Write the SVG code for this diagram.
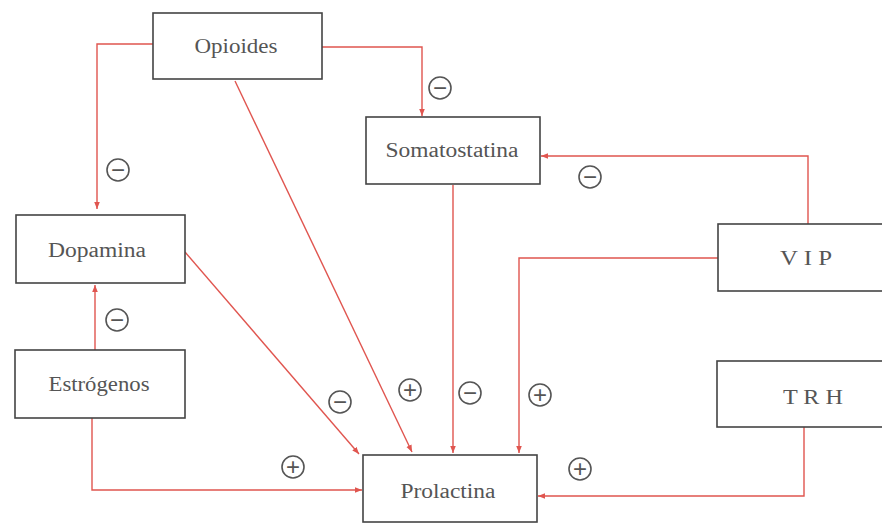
<svg xmlns="http://www.w3.org/2000/svg" width="882" height="526" viewBox="0 0 882 526">
<defs>
<marker id="ah" viewBox="0 0 10 10" refX="10" refY="5" markerWidth="7" markerHeight="7" markerUnits="userSpaceOnUse" orient="auto">
<path d="M0,1 L10,5 L0,9 Z" fill="#e0554f"/>
</marker>
<style>
.box{fill:#fff;stroke:#444;stroke-width:1.6}
.lbl{font-family:"Liberation Serif","Times New Roman",serif;font-size:20px;fill:#555;text-anchor:middle;dominant-baseline:central}
.c{fill:none;stroke:#e0554f;stroke-width:1.4;marker-end:url(#ah)}
.sg circle{fill:#fff;stroke:#555;stroke-width:1.6}
.sg text{font-family:"Liberation Sans",Arial,sans-serif;font-size:24px;fill:#555;text-anchor:middle;dominant-baseline:central}
</style>
</defs>
<rect width="882" height="526" fill="#fff"/>
<g id="connectors">
<path class="c" d="M153,44 H97 V209"/>
<path class="c" d="M322,47 H422 V116"/>
<path class="c" d="M235,81 L412,452"/>
<path class="c" d="M185,252 L359,454"/>
<path class="c" d="M95,350 V285"/>
<path class="c" d="M92,418 V490 H362"/>
<path class="c" d="M453,185 V453"/>
<path class="c" d="M808,224 V156 H541"/>
<path class="c" d="M718,258 H519 V453"/>
<path class="c" d="M804,427 V496 H538"/>
</g>
<g id="signs" class="sg">
<g><circle cx="440" cy="88" r="11"/><text x="440" y="87">−</text></g>
<g><circle cx="118" cy="170" r="11"/><text x="118" y="169">−</text></g>
<g><circle cx="590" cy="177" r="11"/><text x="590" y="176">−</text></g>
<g><circle cx="117" cy="320" r="11"/><text x="117" y="319">−</text></g>
<g><circle cx="340" cy="402" r="11"/><text x="340" y="401">−</text></g>
<g><circle cx="410" cy="390" r="11"/><text x="410" y="389">+</text></g>
<g><circle cx="470" cy="393" r="11"/><text x="470" y="392">−</text></g>
<g><circle cx="540" cy="395" r="11"/><text x="540" y="394">+</text></g>
<g><circle cx="293" cy="467" r="11"/><text x="293" y="466">+</text></g>
<g><circle cx="580" cy="469" r="11"/><text x="580" y="468">+</text></g>
</g>
<g id="opioides"><rect class="box" x="153" y="13" width="169" height="66"/><text class="lbl" x="236" y="46" textLength="83" lengthAdjust="spacingAndGlyphs">Opioides</text></g>
<g id="somatostatina"><rect class="box" x="366" y="117" width="174" height="67"/><text class="lbl" x="452" y="150" textLength="133" lengthAdjust="spacingAndGlyphs">Somatostatina</text></g>
<g id="dopamina"><rect class="box" x="16" y="215" width="169" height="68"/><text class="lbl" x="97" y="250" textLength="98" lengthAdjust="spacingAndGlyphs">Dopamina</text></g>
<g id="estrogenos"><rect class="box" x="15" y="350" width="170" height="68"/><text class="lbl" x="99" y="384" textLength="101" lengthAdjust="spacingAndGlyphs">Estrógenos</text></g>
<g id="vip"><rect class="box" x="718" y="224" width="180" height="67"/><text class="lbl" x="806" y="258" textLength="52" lengthAdjust="spacingAndGlyphs">V I P</text></g>
<g id="trh"><rect class="box" x="717" y="361" width="180" height="66"/><text class="lbl" x="813" y="397" textLength="60" lengthAdjust="spacingAndGlyphs">T R H</text></g>
<g id="prolactina"><rect class="box" x="363" y="455" width="174" height="67"/><text class="lbl" x="448" y="491" textLength="95" lengthAdjust="spacingAndGlyphs">Prolactina</text></g>
</svg>
